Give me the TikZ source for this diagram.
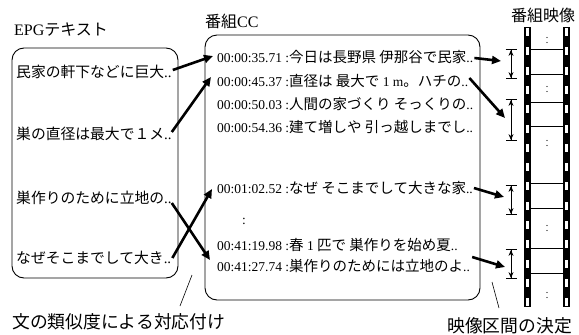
\documentclass[tikz,border=0pt]{standalone}
\usepackage{fontspec}
\setmainfont{Liberation Serif}
\newfontfamily\jp{Noto Sans CJK JP}
\usetikzlibrary{arrows.meta}
\tikzset{
  ltxt/.style={anchor=west, inner sep=0pt, font=\jp\fontsize{14.8}{16}\selectfont},
  ctxt/.style={anchor=west, inner sep=0pt, font=\fontsize{13.5}{15}\selectfont},
  title/.style={anchor=west, inner sep=0pt, font=\jp\fontsize{16}{18}\selectfont},
  blabel/.style={anchor=west, inner sep=0pt, font=\jp\fontsize{17.8}{20}\selectfont},
  panel/.style={draw, line width=0.9pt, rounded corners=12pt},
  link/.style={line width=2.6pt, -{Triangle[length=9pt,width=8pt]}},
  span/.style={line width=0.9pt, {Bar[width=11pt]Stealth[length=6pt,width=5pt]}-{Stealth[length=6pt,width=5pt]Bar[width=11pt]}},
  leader/.style={line width=0.6pt},
  frameline/.style={line width=0.8pt},
}
\newcommand{\J}[1]{{\jp\fontsize{14.5}{16}\selectfont #1}}
\newcommand{\Lat}{\fontspec{Liberation Serif}}
\begin{document}
\begin{tikzpicture}[x=1pt,y=-1pt]
\useasboundingbox (0,0) rectangle (579,335);
% titles
\node[title] (tEPG) at (14,30) {\Lat EPG\jp テキスト};
\node[title] (tCC) at (205,21) {番組\Lat CC};
\node[title] (tVid) at (511,15) {番組映像};
% panels
\draw[panel] (12,48) rectangle (178,278);
\draw[panel] (205,35) rectangle (480,300);
% left texts
\node[ltxt] (e1) at (16,72) {民家の軒下などに巨大\Lat ..};
\node[ltxt] (e2) at (16,134) {巣の直径は最大で１メ\Lat ..};
\node[ltxt] (e3) at (16,198) {巣作りのために立地の\Lat ..};
\node[ltxt] (e4) at (16,258) {なぜそこまでして大き\Lat ..};
% CC texts
\node[ctxt] (c1) at (217,57) {00:00:35.71 :\J{今日は長野県 伊那谷で民家}..};
\node[ctxt] (c2) at (217,81) {00:00:45.37 :\J{直径は 最大で} 1 m\J{。ハチの}..};
\node[ctxt] (c3) at (217,104) {00:00:50.03 :\J{人間の家づくり そっくりの}..};
\node[ctxt] (c4) at (217,127) {00:00:54.36 :\J{建て増しや 引っ越しまでし}..};
\node[ctxt] (c5) at (217,188) {00:01:02.52 :\J{なぜ そこまでして大きな家}..};
\node[ctxt] (c6) at (242,221) {:};
\node[ctxt] (c7) at (217,245) {00:41:19.98 :\J{春} 1 \J{匹で 巣作りを始め夏}..};
\node[ctxt] (c8) at (217,266) {00:41:27.74 :\J{巣作りのためには立地のよ}..};
% bottom labels
\node[blabel] (lSim) at (12,322) {文の類似度による対応付け};
\node[blabel] (lSeg) at (447,326) {映像区間の決定};
% film strip
\fill (524,27) rectangle (531,307);
\fill (563,27) rectangle (570,307);
\foreach \k in {0,...,14}{
  \fill[white] (525.6,28+19.3*\k) rectangle (529.4,36+19.3*\k);
  \fill[white] (564.6,28+19.3*\k) rectangle (568.4,36+19.3*\k);
}
\foreach \yy in {49,74,102,126,183,208,248,273}{
  \draw[frameline] (531,\yy) -- (563,\yy);
}
\foreach \yy in {40,89,143,228,295}{
  \fill (547,\yy-2.5) circle (0.7);
  \fill (547,\yy+2.5) circle (0.7);
}
% intervals
\coordinate (i1t) at (511,49); \coordinate (i1b) at (511,79);
\coordinate (i2t) at (511,99); \coordinate (i2b) at (511,141);
\coordinate (i3t) at (511,185); \coordinate (i3b) at (511,215);
\coordinate (i4t) at (511,249); \coordinate (i4b) at (511,279);
\draw[span] (i1t) -- (i1b);
\draw[span] (i2t) -- (i2b);
\draw[span] (i3t) -- (i3b);
\draw[span] (i4t) -- (i4b);
% links EPG -> CC
\draw[link] ([xshift=1pt,yshift=2pt]e1.east) -- ([xshift=-4pt,yshift=1pt]c1.west);
\draw[link] ([xshift=0pt,yshift=2pt]e2.east) -- ([xshift=-6pt,yshift=4pt]c2.west);
\draw[link] ([xshift=0pt,yshift=-5pt]e3.east) -- ([xshift=-7pt,yshift=6pt]c8.west);
\draw[link] ([xshift=1pt,yshift=0pt]e4.east) -- ([xshift=-5pt,yshift=-1pt]c5.west);
% links CC -> video
\coordinate (v1) at (501,61);
\coordinate (v2) at (505,118);
\coordinate (v3) at (504,197);
\coordinate (v4) at (505,267);
\draw[link] ([xshift=1pt,yshift=-1pt]c1.east) -- (v1);
\draw[link] ([xshift=1pt,yshift=3pt]c2.east) -- (v2);
\draw[link] ([xshift=1pt]c5.east) -- (v3);
\draw[link] ([xshift=2pt,yshift=9pt]c8.east) -- (v4);
% leaders
\coordinate (s1) at (192,275);
\coordinate (s1e) at (180,306);
\coordinate (s2) at (492,282);
\coordinate (s2e) at (499,308);
\draw[leader] (s1) -- (s1e);
\draw[leader] (s2) -- (s2e);
\end{tikzpicture}
\end{document}
